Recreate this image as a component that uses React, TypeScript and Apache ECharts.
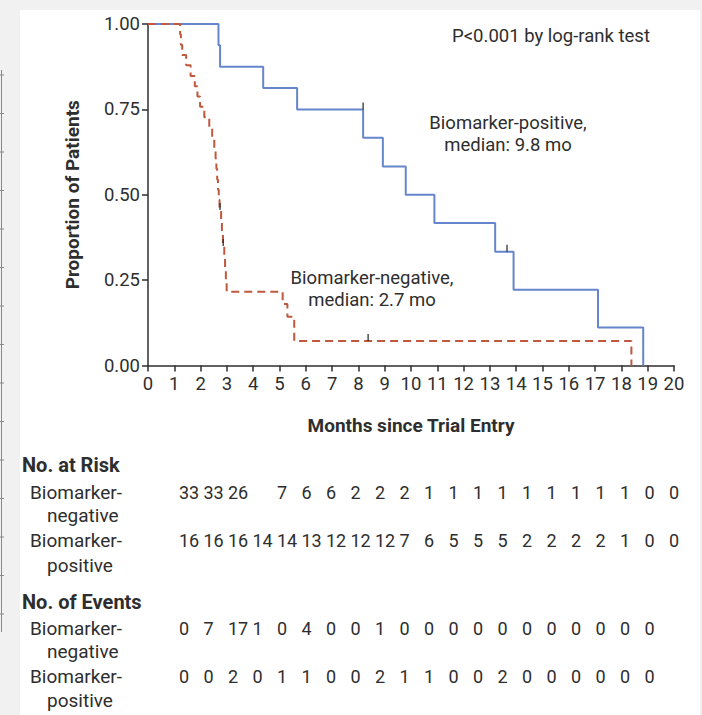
import React, { useEffect, useRef } from "react";
import * as echarts from "echarts";

// Kaplan-Meier step data (time in months, proportion)
const posTimes = [0, 2.68, 2.74, 4.38, 5.67, 8.18, 8.93, 9.8, 10.89, 13.2, 13.9, 17.11, 18.83];
const posSurv = [1, 0.9375, 0.875, 0.8125, 0.75, 0.667, 0.583, 0.5, 0.417, 0.333, 0.222, 0.111, 0];
const posCensorTimes = [8.18, 13.65];
const posCensorSurv = [0.75, 0.333];

const negTimes = [0, 1.22, 1.25, 1.3, 1.45, 1.62, 1.78, 1.88, 1.98, 2.14, 2.33, 2.44, 2.52, 2.57, 2.6, 2.63, 2.66, 2.69, 2.72, 2.78, 2.81, 2.85, 2.9, 2.93, 2.96, 2.99, 5.12, 5.3, 5.56, 18.38];
const negSurv = [1, 0.97, 0.939, 0.909, 0.879, 0.848, 0.818, 0.788, 0.758, 0.727, 0.697, 0.667, 0.636, 0.606, 0.576, 0.545, 0.515, 0.485, 0.455, 0.42, 0.385, 0.35, 0.315, 0.28, 0.245, 0.216, 0.18, 0.143, 0.072, 0];
const negCensorTimes = [2.74, 2.86, 8.37];
const negCensorSurv = [0.455, 0.35, 0.072];

// Table values
const riskNeg = [33, 33, 26, 7, 6, 6, 2, 2, 2, 1, 1, 1, 1, 1, 1, 1, 1, 1, 0, 0];
const riskPos = [16, 16, 16, 14, 14, 13, 12, 12, 12, 7, 6, 5, 5, 5, 2, 2, 2, 2, 1, 0, 0];
const eventsNeg = [0, 7, 17, 1, 0, 4, 0, 0, 1, 0, 0, 0, 0, 0, 0, 0, 0, 0, 0, 0];
const eventsPos = [0, 0, 2, 0, 1, 1, 0, 0, 2, 1, 1, 0, 0, 2, 0, 0, 0, 0, 0, 0];

const BLUE = "#6585cc";
const RED = "#c0583d";
const INK = "#2e2e2e";
const FONT = "Roboto, 'Open Sans', sans-serif";

export default function App() {
  const ref = useRef<HTMLDivElement>(null);
  useEffect(() => {
    const chart = echarts.init(ref.current!, null, { renderer: "svg" });

    const txt = (text: string, x: number, y: number, opts: any = {}) => ({
      type: "text",
      x,
      y,
      z: 10,
      style: {
        text,
        fill: INK,
        fontFamily: FONT,
        fontSize: opts.fontSize || 18.5,
        fontWeight: opts.bold ? "bold" : "normal",
        lineHeight: opts.lineHeight || 20,
        textAlign: opts.align || "left",
        textVerticalAlign: "middle",
        align: opts.align || "left",
        verticalAlign: "middle",
      },
    });

    const colX0 = 179;
    const colStep = 24.5;
    const rowTexts = (vals: number[], y: number, skipCol?: number) =>
      vals.map((v, i) => {
        const col = skipCol !== undefined && i >= skipCol ? i + 1 : i;
        return txt(String(v), colX0 + col * colStep, y, { fontSize: 18 });
      });

    // decorative ruler marks at the page's left edge
    const rulerMarks: any[] = [];
    for (let k = 0; k < 15; k++) {
      const y = 75 + k * 38.5;
      rulerMarks.push({ type: "line", z: -5, shape: { x1: 0, y1: y, x2: 4, y2: y }, style: { stroke: "#8a8a8a", lineWidth: 1 } });
    }

    const graphics: any[] = [
      { type: "rect", z: -10, shape: { x: 20, y: 10, width: 680, height: 705 }, style: { fill: "#ffffff" } },
      { type: "line", z: -5, shape: { x1: 1.5, y1: 70, x2: 1.5, y2: 632 }, style: { stroke: "#8a8a8a", lineWidth: 1 } },
      ...rulerMarks,
      txt("P<0.001 by log-rank test", 551, 36, { align: "center" }),
      txt("Biomarker-positive,\nmedian: 9.8 mo", 508, 134, { align: "center", lineHeight: 22 }),
      txt("Biomarker-negative,\nmedian: 2.7 mo", 372, 289, { align: "center", lineHeight: 22 }),
      txt("No. at Risk", 22, 465, { bold: true, fontSize: 20 }),
      txt("Biomarker-", 30, 492, { fontSize: 19 }),
      txt("negative", 47, 515, { fontSize: 19 }),
      txt("Biomarker-", 30, 540, { fontSize: 19 }),
      txt("positive", 47, 565, { fontSize: 19 }),
      txt("No. of Events", 22, 602, { bold: true, fontSize: 20 }),
      txt("Biomarker-", 30, 628, { fontSize: 19 }),
      txt("negative", 47, 651, { fontSize: 19 }),
      txt("Biomarker-", 30, 676, { fontSize: 19 }),
      txt("positive", 47, 700, { fontSize: 19 }),
      ...rowTexts(riskNeg, 492, 3),
      ...rowTexts(riskPos, 540),
      ...rowTexts(eventsNeg, 628),
      ...rowTexts(eventsPos, 676),
    ];

    const option: any = {
      animation: false,
      backgroundColor: "#f1f1f1",
      textStyle: { fontFamily: FONT },
      grid: { left: 148, top: 24, width: 526, height: 341.5, containLabel: false },
      xAxis: {
        type: "value",
        min: 0,
        max: 20,
        interval: 1,
        name: "Months since Trial Entry",
        nameLocation: "middle",
        nameGap: 50,
        nameTextStyle: { color: INK, fontSize: 19, fontWeight: "bold", fontFamily: FONT },
        axisLine: { lineStyle: { color: INK, width: 1.5 } },
        axisTick: { length: 6, lineStyle: { color: INK, width: 1.5 } },
        axisLabel: { color: INK, fontSize: 18.5, margin: 9, fontFamily: FONT },
        splitLine: { show: false },
      },
      yAxis: {
        type: "value",
        min: 0,
        max: 1,
        interval: 0.25,
        name: "Proportion of Patients",
        nameLocation: "middle",
        nameGap: 66,
        nameTextStyle: { color: INK, fontSize: 19, fontWeight: "bold", fontFamily: FONT },
        axisLine: { show: true, lineStyle: { color: INK, width: 1.5 } },
        axisTick: { show: true, length: 6, lineStyle: { color: INK, width: 1.5 } },
        axisLabel: { color: INK, fontSize: 18.5, margin: 8, fontFamily: FONT, formatter: (v: number) => v.toFixed(2) },
        splitLine: { show: false },
      },
      series: [
        {
          type: "line",
          step: "end",
          data: posTimes.map((t, i) => [t, posSurv[i]]),
          symbol: "none",
          lineStyle: { color: BLUE, width: 2 },
          z: 3,
        },
        {
          type: "line",
          step: "end",
          data: negTimes.map((t, i) => [t, negSurv[i]]),
          symbol: "none",
          lineStyle: { color: RED, width: 2, type: [8, 5] },
          z: 3,
        },
        {
          type: "scatter",
          data: posCensorTimes.map((t, i) => [t, posCensorSurv[i]]),
          symbol: "rect",
          symbolSize: [1.5, 7],
          symbolOffset: [0, -3.5],
          itemStyle: { color: "#222" },
          z: 4,
        },
        {
          type: "scatter",
          data: negCensorTimes.map((t, i) => [t, negCensorSurv[i]]),
          symbol: "rect",
          symbolSize: [1.5, 7],
          symbolOffset: [0, -3.5],
          itemStyle: { color: "#222" },
          z: 4,
        },
      ],
      graphic: { elements: graphics },
    };
    chart.setOption(option);
    return () => chart.dispose();
  }, []);
  return <div ref={ref} style={{ position: "fixed", left: 0, top: 0, width: 702, height: 715 }} />;
}
